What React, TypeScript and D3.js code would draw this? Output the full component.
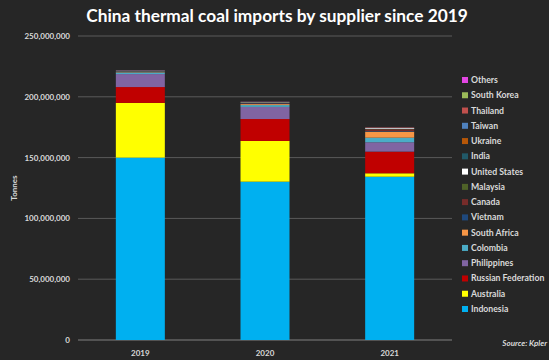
import React from "react";
import * as d3 from "d3";

const years = ["2019", "2020", "2021"];
// Series in stacking order (bottom to top), values in million tonnes
const suppliers = [
  "Indonesia", "Australia", "Russian Federation", "Philippines", "Colombia",
  "South Africa", "Vietnam", "Canada", "Malaysia", "United States", "India",
  "Ukraine", "Taiwan", "Thailand", "South Korea", "Others",
];
const indonesia = [150.0, 130.2, 134.3];
const australia = [45.0, 33.5, 2.8];
const russia = [13.0, 18.0, 17.8];
const philippines = [10.7, 10.0, 7.7];
const colombia = [1.3, 1.5, 3.8];
const southAfrica = [0.3, 0.8, 4.9];
const vietnam = [0.4, 0.6, 0.5];
const canada = [0.2, 0.4, 1.5];
const malaysia = [0.2, 0.3, 0.2];
const unitedStates = [0.3, 0.3, 0.7];
const india = [0.0, 0.1, 0.2];
const ukraine = [0.0, 0.1, 0.3];
const taiwan = [0.0, 0.1, 0.1];
const thailand = [0.0, 0.0, 0.1];
const southKorea = [0.0, 0.0, 0.0];
const others = [0.1, 0.1, 0.1];
const seriesValues = [
  indonesia, australia, russia, philippines, colombia, southAfrica, vietnam,
  canada, malaysia, unitedStates, india, ukraine, taiwan, thailand, southKorea, others,
];
const colors = [
  "#00b0f0", "#ffff00", "#c00000", "#8064a2", "#4bacc6", "#f79646", "#1f497d",
  "#772c2a", "#4f6228", "#ffffff", "#215968", "#b65708", "#4f81bd", "#c0504d",
  "#9bbb59", "#e246e2",
];
const yTicks = [0, 50, 100, 150, 200, 250];

export default function App() {
  const W = 549, H = 360;
  const left = 78, right = 452, top = 36, bottom = 340;
  const font = "Lato, 'Open Sans', sans-serif";

  const rows = years.map((y, i) => {
    const r: any = { year: y };
    suppliers.forEach((s, k) => (r[s] = seriesValues[k][i]));
    return r;
  });
  const stacked = d3.stack().keys(suppliers)(rows);
  const x = d3.scaleBand().domain(years).range([left, right]).paddingInner(0.607).paddingOuter(0.3035);
  const y = d3.scaleLinear().domain([0, 250]).range([bottom, top]);
  const fmt = d3.format(",");

  const legendOrder = [...suppliers].reverse();
  const legendY = d3.scalePoint().domain(legendOrder).range([80, 309]);

  return (
    <svg width={W} height={H} style={{ position: "absolute", left: 0, top: 0, display: "block" }}>
      <rect width={W} height={H} fill="#262626" />
      <text x={277} y={22} textAnchor="middle" fill="#ffffff" fontFamily={font} fontWeight="bold" fontSize={17.3}>
        China thermal coal imports by supplier since 2019
      </text>
      {yTicks.map((t) => (
        <g key={t}>
          <line x1={left} x2={right} y1={y(t)} y2={y(t)} stroke={t === 0 ? "#808080" : "#5a5a5a"} strokeWidth={1} />
          <text x={70} y={y(t) + 3} textAnchor="end" fill="#d9d9d9" fontFamily={font} fontWeight="bold" fontSize={8}>
            {fmt(t * 1000000)}
          </text>
        </g>
      ))}
      <text transform={`translate(17,${(top + bottom) / 2}) rotate(-90)`} textAnchor="middle" fill="#d9d9d9" fontFamily={font} fontWeight="bold" fontSize={8}>
        Tonnes
      </text>
      {stacked.map((s, k) => (
        <g key={s.key} fill={colors[k]}>
          {s.map((d, i) => {
            const h = y(d[0]) - y(d[1]);
            if (h <= 0) return null;
            return <rect key={i} x={x(years[i])} y={y(d[1])} width={x.bandwidth()} height={h} />;
          })}
        </g>
      ))}
      {years.map((yr) => (
        <text key={yr} x={(x(yr) as number) + x.bandwidth() / 2} y={356} textAnchor="middle" fill="#d9d9d9" fontFamily={font} fontWeight="bold" fontSize={8}>
          {yr}
        </text>
      ))}
      {legendOrder.map((s) => {
        const k = suppliers.indexOf(s);
        const ly = legendY(s) as number;
        return (
          <g key={s}>
            <rect x={462} y={ly - 3} width={6} height={6} fill={colors[k]} />
            <text x={471} y={ly + 3} fill="#d9d9d9" fontFamily={font} fontWeight="bold" fontSize={8.7}>
              {s}
            </text>
          </g>
        );
      })}
      <text x={547} y={346} textAnchor="end" fill="#d9d9d9" fontFamily={font} fontWeight="bold" fontStyle="italic" fontSize={8}>
        Source: Kpler
      </text>
    </svg>
  );
}
